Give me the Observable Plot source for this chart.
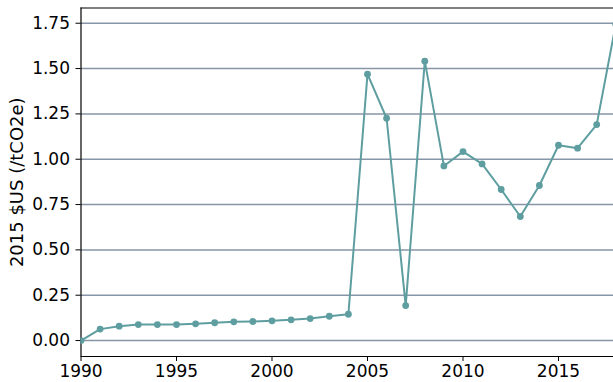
<!DOCTYPE html>
<html>
<head>
<meta charset="utf-8">
<script src="https://cdn.jsdelivr.net/npm/d3@7"></script>
<script src="https://cdn.jsdelivr.net/npm/@observablehq/plot@0.6"></script>
<style>
  html, body { margin: 0; padding: 0; background: #fff; overflow: hidden; }
  #chart svg { display: block; font-family: "DejaVu Sans", sans-serif; }
</style>
</head>
<body>
<div id="chart"></div>
<script>
const years = [1990,1991,1992,1993,1994,1995,1996,1997,1998,1999,2000,2001,2002,2003,2004,2005,2006,2007,2008,2009,2010,2011,2012,2013,2014,2015,2016,2017,2018];
const values = [0.000,0.063,0.079,0.088,0.088,0.088,0.092,0.098,0.103,0.105,0.109,0.114,0.121,0.134,0.145,1.469,1.226,0.193,1.541,0.963,1.042,0.974,0.833,0.684,0.855,1.077,1.061,1.191,1.745];
const yTicks = [0,0.25,0.5,0.75,1.0,1.25,1.5,1.75];
const xTicks = [1990,1995,2000,2005,2010,2015];
const xDomain = [1990, 2017.88];
const yDomain = [-0.088, 1.834];
const yLabel = "2015 $US (/tCO2e)";

const data = years.map((y, i) => ({year: y, value: values[i]}));
const color = "#5f9ea0";
const fs = 17;

const chart = Plot.plot({
  width: 613,
  height: 382,
  marginLeft: 80.5,
  marginRight: 0,
  marginTop: 7.5,
  marginBottom: 26,
  style: {fontSize: fs + "px", fontFamily: "DejaVu Sans, sans-serif", color: "black", background: "white"},
  x: {domain: xDomain},
  y: {domain: yDomain},
  marks: [
    Plot.gridY(yTicks, {stroke: "#8796a6", strokeOpacity: 1, strokeWidth: 1.5}),
    Plot.axisX(xTicks, {tickSize: 5, tickPadding: 3.5, tickFormat: d => String(d), label: null, fontSize: fs}),
    Plot.axisY(yTicks, {tickSize: 5, tickPadding: 6, tickFormat: d3.format(".2f"), label: null, fontSize: fs}),
    Plot.ruleX([xDomain[0]], {stroke: "black", strokeWidth: 1.2}),
    Plot.ruleY([yDomain[0]], {stroke: "black", strokeWidth: 1.2}),
    Plot.ruleY([yDomain[1]], {stroke: "black", strokeWidth: 1.2}),
    Plot.line(data, {x: "year", y: "value", stroke: color, strokeWidth: 2, clip: true}),
    Plot.dot(data, {x: "year", y: "value", r: 3.4, fill: color, stroke: null, clip: true}),
    Plot.text([yLabel], {frameAnchor: "left", textAnchor: "middle", rotate: -90, dx: -64, dy: 0, fontSize: 18, fill: "black"})
  ]
});
document.getElementById("chart").appendChild(chart);
</script>
</body>
</html>
